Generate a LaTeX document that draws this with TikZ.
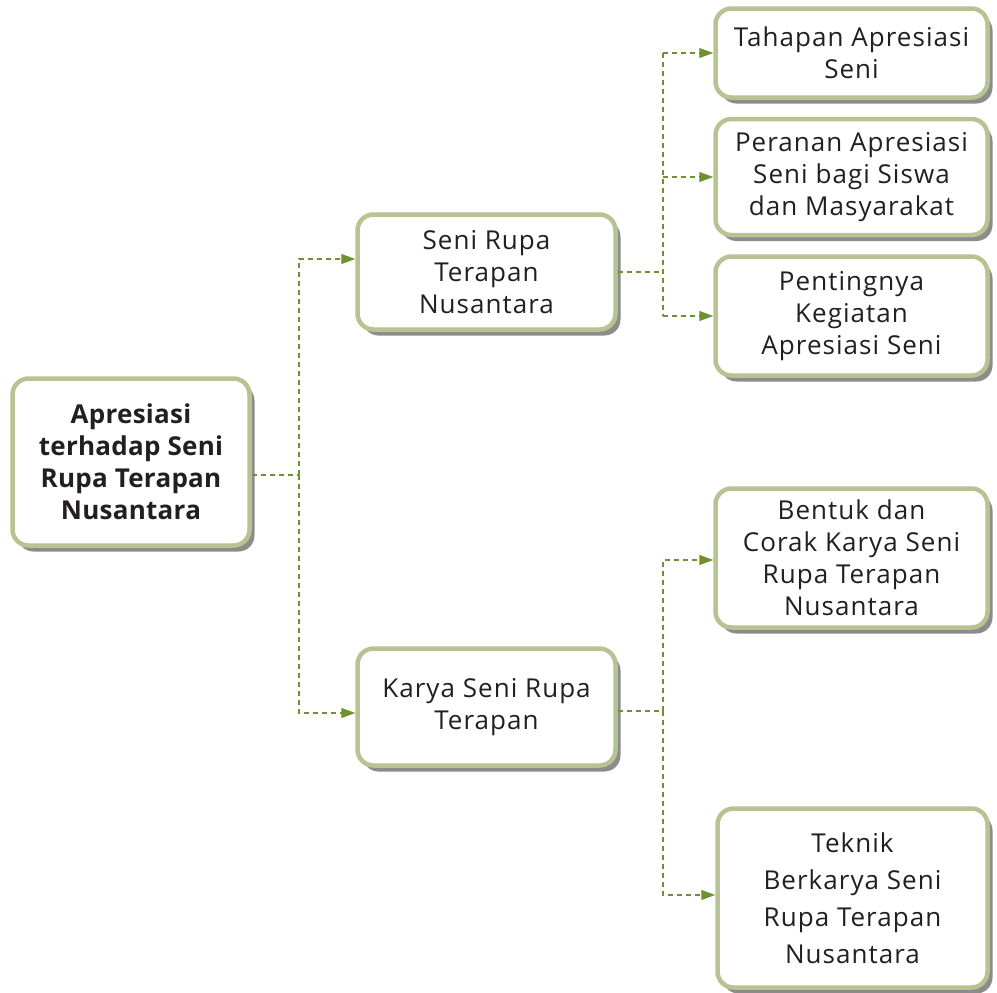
\documentclass[tikz,border=0pt]{standalone}
\usepackage{fontspec}
\setmainfont{Open Sans}[LetterSpace=4]
\usetikzlibrary{arrows.meta, shadows, positioning, calc}

\definecolor{tepi}{HTML}{B8C394}
\definecolor{garis}{HTML}{6E9231}
\definecolor{teks}{HTML}{231F20}

\tikzset{
  topik/.style={draw=tepi, line width=4.5pt, rounded corners=16pt, fill=white, align=center, text=teks, inner sep=2pt,
    font=\fontsize{26}{32}\selectfont,
    drop shadow={shadow xshift=5pt, shadow yshift=-6pt, fill=black!75, opacity=.6}},
  alur/.style={draw=garis, line width=1.1pt, dash pattern=on 5pt off 4pt},
  panah/.style={alur, -{Triangle[length=14pt, width=10pt]}}
}

\begin{document}
\begin{tikzpicture}[x=1pt, y=-1pt]

\useasboundingbox (0,0) rectangle (997,993);

% akar
\node[topik, minimum width=237pt, minimum height=167pt, font=\fontsize{26}{32}\selectfont\bfseries\addfontfeature{LetterSpace=1}] (akar) at (131,462) {Apresiasi\\terhadap Seni\\Rupa Terapan\\Nusantara};

% cabang tengah
\node[topik, minimum width=258pt, minimum height=115pt] (srt) at (486.5,272) {Seni Rupa\\Terapan\\Nusantara};
\node[topik, minimum width=258pt, minimum height=117pt] (karya) at (486.5,707) {Karya Seni Rupa\\Terapan};

% cabang kanan atas
\node[topik, minimum width=272pt, minimum height=89pt] (tahap) at (851.5,53) {Tahapan Apresiasi\\Seni};
\node[topik, minimum width=272pt, minimum height=116pt] (peran) at (851.5,177) {Peranan Apresiasi\\Seni bagi Siswa\\dan Masyarakat};
\node[topik, minimum width=272pt, minimum height=119pt] (penting) at (851.5,316) {Pentingnya\\Kegiatan\\Apresiasi Seni};

% cabang kanan bawah
\node[topik, minimum width=272pt, minimum height=139pt] (bentuk) at (851.5,558) {Bentuk dan\\Corak Karya Seni\\Rupa Terapan\\Nusantara};
\node[topik, minimum width=270pt, minimum height=179pt, font=\fontsize{26}{37}\selectfont] (teknik) at (852.5,898) {Teknik\\Berkarya Seni\\Rupa Terapan\\Nusantara};

% titik simpang
\coordinate (s1) at (299,475);
\coordinate (s2) at (663,272);
\coordinate (s3) at (663,711);

\draw[alur] ([yshift=-13pt]akar.east) -- (s1);
\draw[panah] (s1) |- ([yshift=13pt]srt.west);
\draw[panah] (s1) |- ([yshift=-6pt]karya.west);

\draw[alur] (srt.east) -- (s2);
\draw[alur] (s2 |- tahap.west) -- (s2 |- penting.west);
\draw[panah] (s2 |- tahap.west) -- (tahap.west);
\draw[panah] (s2 |- peran.west) -- (peran.west);
\draw[panah] (s2 |- penting.west) -- (penting.west);

\draw[alur] ([yshift=-4pt]karya.east) -- (s3);
\draw[panah] (s3) |- ([yshift=-2pt]bentuk.west);
\draw[panah] (s3) |- ([yshift=3pt]teknik.west);

\end{tikzpicture}
\end{document}
